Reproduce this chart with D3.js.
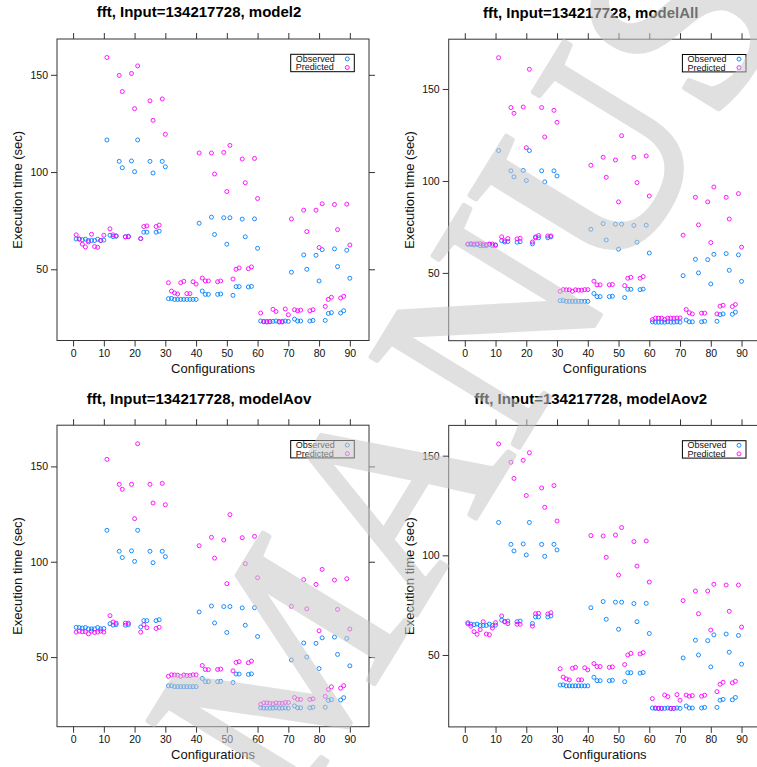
<!DOCTYPE html>
<html lang="en">
<head>
<meta charset="utf-8">
<title>fft predictions</title>
<script src="https://d3js.org/d3.v7.min.js"></script>
<style>
  body { margin: 0; background: #fff; }
  svg { display: block; overflow: hidden; }
  text { font-family: "Liberation Sans", Arial, sans-serif; }
</style>
</head>
<body>
<script>
// configurations 1..90
const configs = [
   1, 2, 3, 4, 5, 6, 7, 8, 9,10,11,12,13,14,15,16,17,18,19,20,21,22,23,24,25,26,27,28,29,30,
  31,32,33,34,35,36,37,38,39,40,41,42,43,44,45,46,47,48,49,50,51,52,53,54,55,56,57,58,59,60,
  61,62,63,64,65,66,67,68,69,70,71,72,73,74,75,76,77,78,79,80,81,82,83,84,85,86,87,88,89,90];

const observed = [
  65.6,65.5,65.2,65.5,64.8,64.8,64.8,65.5,64.8,65.0,116.5,67.5,66.8,67.0,105.5,102.2,66.7,67.0,105.7,100.2,
  116.5,65.8,69.1,69.1,105.5,99.5,69.1,69.6,105.5,102.7,34.9,35.0,34.5,34.5,34.5,34.5,34.5,34.5,34.5,34.5,
  73.7,38.8,37.1,37.1,76.8,67.9,37.1,37.3,76.5,62.9,76.5,36.6,41.1,41.1,75.8,66.7,40.9,41.2,75.9,60.8,
  23.4,23.2,23.2,23.2,23.2,23.4,23.2,23.2,23.4,23.2,48.5,24.4,23.4,23.4,57.4,50.0,23.4,23.7,57.2,44.0,
  60.1,23.7,27.3,27.7,60.5,51.4,27.5,28.7,59.8,45.4];

const predModel2 = [
  67.7,65.6,62.9,61.5,64.1,68.0,61.7,61.3,64.8,67.5,158.9,70.8,67.7,67.2,149.7,141.4,66.7,66.7,150.7,132.6,
  154.6,65.8,72.0,72.3,136.6,126.6,72.0,72.7,137.6,119.4,43.1,38.8,37.8,37.3,43.1,43.8,37.5,37.5,43.6,42.4,
  109.8,45.5,44.0,44.0,109.8,99.0,43.6,44.0,110.1,90.0,113.7,45.0,50.0,50.7,106.7,94.5,50.3,51.2,107.0,86.4,
  27.5,23.0,22.9,23.0,29.4,28.3,22.9,22.9,29.6,26.6,75.9,29.2,28.7,29.0,80.4,69.4,28.7,29.2,80.4,61.2,
  83.7,30.9,34.5,35.6,83.3,70.4,35.2,36.1,83.5,62.5];

const predModelAll = [
  65.6,65.9,65.7,65.8,65.9,65.7,65.4,65.7,65.7,65.2,167.0,69.6,67.5,68.7,139.9,136.8,68.5,68.8,140.2,118.1,
  160.7,66.8,69.6,70.3,139.9,123.9,70.1,70.1,138.4,131.9,40.0,40.9,40.8,40.8,40.0,40.8,40.6,40.6,40.9,40.9,
  108.5,45.5,43.5,43.5,112.9,102.0,43.5,43.7,111.4,88.6,124.6,43.1,47.1,47.6,112.9,99.1,47.1,48.0,113.6,91.8,
  24.6,25.4,25.4,25.4,24.6,25.4,25.4,25.4,25.5,25.5,70.5,30.1,28.4,27.7,91.1,76.1,28.1,28.1,88.6,66.5,
  96.7,27.7,31.9,32.4,91.1,79.3,31.7,32.8,93.1,64.0];

const predModelAov = [
  63.1,63.6,63.3,63.3,62.2,63.6,62.9,63.1,63.6,63.1,153.7,71.7,68.4,67.8,140.6,138.0,67.8,67.8,140.6,122.6,
  161.9,63.1,67.0,65.4,140.6,130.8,65.0,65.6,141.1,129.9,39.9,40.7,40.6,40.5,39.9,40.6,40.3,40.3,40.7,40.7,
  108.4,45.6,43.5,43.4,112.8,101.9,43.5,43.7,111.4,88.5,124.7,42.8,47.2,47.6,112.6,99.0,47.0,47.9,113.3,91.6,
  25.2,26.0,26.0,25.8,25.5,26.0,25.8,25.8,26.2,26.2,76.6,28.8,27.8,27.8,90.6,75.3,27.8,28.1,88.1,63.8,
  96.0,29.4,33.0,34.4,90.4,75.0,33.7,35.0,91.1,64.7];

const predModelAov2 = [
  66.2,64.4,61.7,60.4,62.7,66.7,60.5,60.2,63.5,66.2,155.9,69.6,66.6,65.7,146.7,138.6,65.4,65.4,147.7,130.0,
  151.5,64.5,70.7,70.9,133.8,124.1,70.6,71.2,135.0,117.2,43.1,38.9,38.0,37.5,43.3,43.8,37.5,37.5,43.6,42.5,
  109.9,45.7,44.2,44.2,109.7,99.0,43.8,44.0,110.2,90.1,113.9,45.2,50.0,50.8,106.9,94.6,50.5,51.2,107.2,86.6,
  28.1,23.4,23.2,23.2,29.9,29.1,23.2,23.2,30.1,27.3,77.3,29.9,29.3,29.6,82.1,70.7,29.3,29.8,82.1,62.5,
  85.5,31.6,35.3,36.3,85.1,71.9,36.0,36.8,85.1,64.0];

const xTicks = [0, 10, 20, 30, 40, 50, 60, 70, 80, 90];
const yTicks = [50, 100, 150];
const models = ["model2", "modelAll", "modelAov", "modelAov2"];
const predictions = [predModel2, predModelAll, predModelAov, predModelAov2];
const seriesNames = ["Observed", "Predicted"];
const titlePrefix = "fft, Input=134217728, ";

const BLUE = "#0080ff";
const MAGENTA = "#ff00ff";
const AXIS = "#333";

const width = 757, height = 767;
const boxW = 312, boxH = 301.5;
// top-left corner of each panel's plot box
const panels = [
  {x: 57,    y: 39},
  {x: 448.7, y: 39.2},
  {x: 57,    y: 425.2},
  {x: 448.7, y: 425.4}
];

const svg = d3.select("body").append("svg")
  .attr("width", width)
  .attr("height", height);

// lattice-style padding of the data range
function padded(ext) {
  const d = (ext[1] - ext[0]) * 0.07;
  return [ext[0] - d, ext[1] + d];
}

panels.forEach((p, i) => {
  const pred = predictions[i];
  const g = svg.append("g").attr("transform", `translate(${p.x},${p.y})`);

  const x = d3.scaleLinear()
    .domain(padded(d3.extent(configs)))
    .range([0, boxW]);
  const y = d3.scaleLinear()
    .domain(padded(d3.extent(observed.concat(pred))))
    .range([boxH, 0]);

  // axes: labelled left/bottom, bare ticks top/right
  g.append("g").attr("class", "axis")
    .attr("transform", `translate(0,${boxH})`)
    .call(d3.axisBottom(x).tickValues(xTicks).tickSize(6).tickPadding(3).tickFormat(d3.format("d")));
  g.append("g").attr("class", "axis")
    .call(d3.axisTop(x).tickValues(xTicks).tickSize(6).tickFormat(""));
  g.append("g").attr("class", "axis")
    .call(d3.axisLeft(y).tickValues(yTicks).tickSize(6).tickPadding(3).tickFormat(d3.format("d")));
  g.append("g").attr("class", "axis")
    .attr("transform", `translate(${boxW},0)`)
    .call(d3.axisRight(y).tickValues(yTicks).tickSize(6).tickFormat(""));

  g.selectAll(".axis .domain").remove();
  g.selectAll(".axis line").attr("stroke", AXIS);
  g.selectAll(".axis text")
    .attr("fill", "#111")
    .style("font-size", "10.5px")
    .style("font-family", "'Liberation Sans', Arial, sans-serif");

  g.append("rect")
    .attr("width", boxW)
    .attr("height", boxH)
    .attr("fill", "none")
    .attr("stroke", AXIS)
    .attr("stroke-width", 1);

  // points
  g.append("g").selectAll("circle")
    .data(configs)
    .join("circle")
    .attr("cx", d => x(d))
    .attr("cy", (d, k) => y(observed[k]))
    .attr("r", 2)
    .attr("fill", "none")
    .attr("stroke", BLUE)
    .attr("stroke-width", 0.9);

  g.append("g").selectAll("circle")
    .data(configs)
    .join("circle")
    .attr("cx", d => x(d))
    .attr("cy", (d, k) => y(pred[k]))
    .attr("r", 2)
    .attr("fill", "none")
    .attr("stroke", MAGENTA)
    .attr("stroke-width", 0.9);

  // legend
  const lg = g.append("g").attr("transform", `translate(${boxW - 78.3},15.3)`);
  lg.append("rect")
    .attr("width", 63.6)
    .attr("height", 17.4)
    .attr("fill", "#fff")
    .attr("stroke", "#000")
    .attr("stroke-width", 1);
  seriesNames.forEach((s, k) => {
    lg.append("text")
      .attr("x", 5)
      .attr("y", 7.6 + k * 8.4)
      .style("font-size", "9px")
      .attr("fill", "#111")
      .text(s);
    lg.append("circle")
      .attr("cx", 56.6)
      .attr("cy", 4.6 + k * 8.6)
      .attr("r", 2)
      .attr("fill", "none")
      .attr("stroke", k === 0 ? BLUE : MAGENTA)
      .attr("stroke-width", 0.9);
  });

  // titles
  g.append("text")
    .attr("x", 142)
    .attr("y", -21.6)
    .attr("text-anchor", "middle")
    .style("font-size", "15px")
    .style("font-weight", "bold")
    .attr("fill", "#000")
    .text(titlePrefix + models[i]);

  g.append("text")
    .attr("x", boxW / 2)
    .attr("y", boxH + 32.3)
    .attr("text-anchor", "middle")
    .style("font-size", "13px")
    .attr("fill", "#111")
    .text("Configurations");

  g.append("text")
    .attr("transform", `translate(-35,${boxH / 2}) rotate(-90)`)
    .attr("text-anchor", "middle")
    .style("font-size", "13px")
    .attr("fill", "#111")
    .text("Execution time (sec)");
});

// "MANUSCRIPT" watermark over the figure
svg.append("g")
  .attr("opacity", 0.55)
  .append("text")
  .attr("transform", "translate(292,818) rotate(-58.5)")
  .style("font-family", "'Liberation Serif', 'Times New Roman', serif")
  .style("font-size", "265px")
  .attr("fill", "rgb(200,200,200)")
  .attr("stroke", "rgb(200,200,200)")
  .attr("stroke-width", 5)
  .attr("stroke-linejoin", "round")
  .text("MANUSCRIPT");
</script>
</body>
</html>
